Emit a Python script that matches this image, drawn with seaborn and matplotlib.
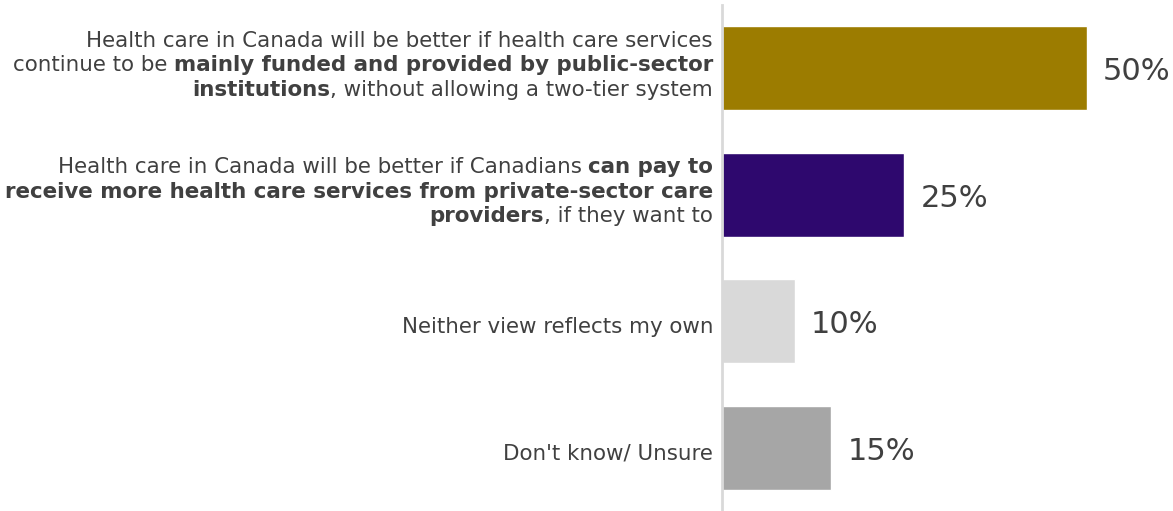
import matplotlib
matplotlib.use('Agg')
import matplotlib.pyplot as plt
from matplotlib.transforms import IdentityTransform
import pandas as pd
import seaborn as sns

# labels use **...** for the bold parts, one entry per line
labels = [
    ['Health care in Canada will be better if health care services',
     'continue to be **mainly funded and provided by public-sector**',
     '**institutions**, without allowing a two-tier system'],
    ['Health care in Canada will be better if Canadians **can pay to**',
     '**receive more health care services from private-sector care**',
     '**providers**, if they want to'],
    ['Neither view reflects my own'],
    ["Don't know/ Unsure"],
]
categories = ['public', 'private', 'neither', 'unsure']
values = [50, 25, 10, 15]
colors = ['#9C7C00', '#2E086E', '#D9D9D9', '#A6A6A6']

text_color = '#404040'
label_size = 15.4
value_size = 22

sns.set_style('white')
plt.rcParams['font.family'] = ['DejaVu Sans']

df = pd.DataFrame({'cat': categories, 'value': values})

fig = plt.figure(figsize=(11.73, 5.11), dpi=100)
ax = fig.add_axes([722 / 1173, 0, 451 / 1173, 506 / 511])
sns.barplot(data=df, x='value', y='cat', hue='cat', palette=colors,
            orient='h', width=0.664, legend=False, ax=ax, saturation=1)
ax.set_xlim(0, 61.8)
ax.set_ylim(3.5, -0.5)
ax.set_xlabel('')
ax.set_ylabel('')
ax.set_xticks([])
ax.set_yticks([])
for name, spine in ax.spines.items():
    spine.set_visible(name == 'left')
ax.spines['left'].set_color('#D9D9D9')
ax.spines['left'].set_linewidth(2)

for i, v in enumerate(values):
    ax.annotate(f'{v}%', xy=(v, i), xytext=(16, -12), textcoords='offset pixels',
                ha='left', va='baseline', fontsize=value_size, color=text_color)

fig.canvas.draw()
renderer = fig.canvas.get_renderer()


def width_of(s, weight):
    t = fig.text(0, 0, s, fontsize=label_size, fontweight=weight)
    w = t.get_window_extent(renderer).width
    t.remove()
    return w


space_w = {w: width_of('a a', w) - width_of('aa', w) for w in ('normal', 'bold')}


def parse(line):
    parts = line.split('**')
    return [(p, 'bold' if k % 2 else 'normal') for k, p in enumerate(parts) if p]


anchor_x = ax.transAxes.transform((0, 0))[0] - 9
line_gap = 24.5
for i, lines in enumerate(labels):
    cy = ax.transData.transform((0, i))[1]
    n = len(lines)
    off = -3 if n > 1 else -12
    for k, line in enumerate(lines):
        y = cy + off - (k - (n - 1) / 2) * line_gap
        x = anchor_x
        runs = parse(line)
        for j in range(len(runs) - 1, -1, -1):
            s, weight = runs[j]
            if s.endswith(' '):
                x -= space_w[weight]
            t = fig.text(x, y, s.strip(), transform=IdentityTransform(),
                         ha='right', va='baseline', fontsize=label_size,
                         fontweight=weight, color=text_color)
            x -= t.get_window_extent(renderer).width
            if s.startswith(' '):
                x -= space_w[weight]

fig.savefig('out.png', dpi=100)
